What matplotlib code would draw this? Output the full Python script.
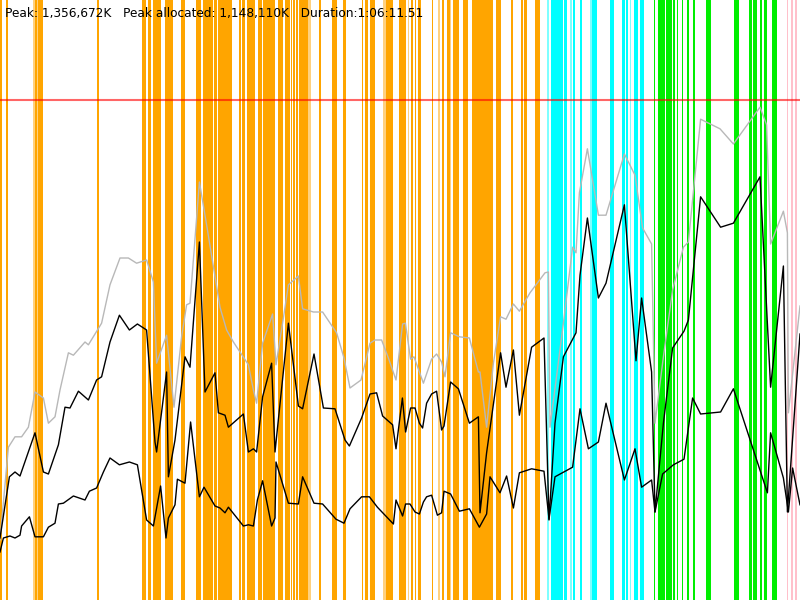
import matplotlib
matplotlib.use('Agg')
import matplotlib.pyplot as plt

# Heap usage over time (seconds / MB)
DURATION = 4000
HEAP_MAX = 1500
HEAP_LIMIT = 1250

committed_t = [0, 42, 75, 108, 142, 175, 217, 242, 275, 300, 342, 367, 425, 442, 508, 550, 600, 642, 683, 733,
               767, 783, 833, 870, 908, 933, 950, 997, 1033, 1100, 1133, 1167, 1200, 1242, 1267, 1283, 1313, 1363, 1380, 1417,
               1442, 1492, 1513, 1567, 1613, 1683, 1720, 1750, 1805, 1850, 1875, 1908, 1942, 1980, 2013, 2027, 2053, 2070, 2117, 2158,
               2183, 2208, 2225, 2253, 2297, 2347, 2392, 2400, 2433, 2467, 2503, 2530, 2567, 2597, 2650, 2725, 2742, 2750, 2817, 2863,
               2880, 2897, 2937, 2992, 3030, 3122, 3175, 3213, 3258, 3275, 3317, 3363, 3417, 3442, 3503, 3600, 3667, 3800, 3833, 3853,
               3917, 3937, 3942, 4000]
committed_mb = [150, 382, 408, 408, 432, 520, 505, 442, 458, 525, 618, 612, 645, 638, 692, 788, 855, 855, 842, 850,
                795, 592, 662, 482, 658, 738, 742, 1045, 938, 732, 675, 645, 620, 588, 525, 492, 642, 715, 588, 705,
                788, 810, 728, 720, 720, 668, 605, 530, 550, 642, 650, 650, 605, 550, 690, 692, 602, 608, 542, 602,
                615, 595, 558, 668, 658, 655, 570, 570, 432, 592, 708, 702, 740, 722, 768, 818, 820, 432, 692, 882,
                868, 1018, 1128, 962, 962, 1115, 1062, 930, 890, 442, 608, 775, 882, 895, 1202, 1178, 1140, 1232, 1188, 890,
                972, 918, 468, 735]

before_t = [0, 47, 75, 100, 175, 217, 242, 292, 325, 350, 392, 442, 483, 508, 550, 597, 647, 687, 733, 775,
            783, 833, 842, 875, 925, 950, 997, 1025, 1075, 1092, 1125, 1142, 1217, 1242, 1267, 1283, 1313, 1358, 1375, 1442,
            1492, 1513, 1570, 1617, 1675, 1725, 1747, 1808, 1850, 1883, 1913, 1963, 1980, 2012, 2028, 2053, 2075, 2097, 2113, 2133,
            2158, 2183, 2208, 2220, 2253, 2292, 2347, 2392, 2400, 2433, 2503, 2530, 2567, 2597, 2658, 2720, 2745, 2775, 2817, 2880,
            2900, 2937, 2992, 3030, 3122, 3180, 3208, 3258, 3275, 3317, 3363, 3420, 3442, 3503, 3603, 3667, 3800, 3853, 3917, 3937,
            4000]
before_mb = [155, 308, 320, 310, 418, 320, 315, 388, 482, 480, 522, 500, 550, 558, 645, 712, 675, 690, 675, 395,
             370, 570, 308, 400, 608, 582, 895, 520, 568, 468, 462, 432, 465, 370, 378, 370, 508, 592, 370, 692,
             485, 478, 615, 480, 478, 400, 385, 455, 515, 518, 460, 438, 378, 505, 420, 480, 480, 442, 430, 492,
             515, 522, 425, 435, 545, 528, 442, 458, 218, 368, 618, 532, 625, 462, 632, 655, 200, 442, 608, 668,
             812, 955, 755, 792, 988, 598, 755, 570, 220, 442, 630, 672, 700, 1008, 932, 942, 1058, 532, 835, 220,
             665]

after_t = [0, 17, 50, 75, 100, 108, 147, 175, 217, 242, 275, 292, 317, 367, 425, 447, 483, 517, 550, 597,
           647, 687, 733, 767, 803, 830, 842, 875, 887, 925, 953, 997, 1020, 1075, 1100, 1125, 1142, 1217, 1242, 1267,
           1287, 1313, 1358, 1375, 1380, 1442, 1492, 1513, 1570, 1613, 1680, 1720, 1750, 1808, 1847, 1887, 1967, 1980, 2013, 2028,
           2050, 2075, 2097, 2117, 2133, 2158, 2187, 2208, 2220, 2253, 2297, 2347, 2397, 2433, 2450, 2500, 2533, 2567, 2597, 2658,
           2720, 2745, 2775, 2863, 2900, 2942, 2992, 3030, 3122, 3175, 3208, 3258, 3275, 3313, 3367, 3420, 3463, 3503, 3603, 3667,
           3837, 3853, 3917, 3942, 3963, 4000]
after_mb = [120, 155, 160, 155, 162, 185, 208, 158, 158, 182, 192, 240, 242, 260, 250, 272, 280, 320, 355, 338,
            345, 338, 200, 185, 285, 155, 205, 238, 302, 292, 445, 258, 282, 235, 230, 218, 232, 185, 188, 185,
            250, 298, 185, 205, 345, 242, 240, 308, 242, 240, 202, 192, 228, 258, 258, 232, 190, 250, 210, 240,
            240, 220, 215, 245, 258, 262, 212, 218, 272, 265, 222, 228, 182, 215, 308, 268, 310, 230, 318, 328,
            322, 202, 308, 332, 478, 378, 395, 492, 300, 378, 282, 300, 220, 315, 338, 352, 505, 465, 470, 528,
            268, 418, 305, 220, 330, 238]

# GC pauses (start, end) in seconds
young_gc = [(0, 8), (30, 38), (175, 185), (190, 215), (483, 493), (710, 730), (738, 757), (763, 783), (787, 805),
            (827, 867), (907, 925), (980, 1003), (1017, 1067), (1070, 1087), (1092, 1158), (1195, 1205),
            (1210, 1225), (1233, 1275), (1292, 1308), (1317, 1375), (1392, 1417), (1425, 1450), (1453, 1462),
            (1467, 1475), (1480, 1492), (1497, 1542), (1597, 1607), (1658, 1683), (1713, 1730), (1808, 1817),
            (1825, 1842), (1850, 1875), (1930, 1967), (1997, 2028), (2053, 2063), (2075, 2080), (2092, 2103),
            (2160, 2165), (2212, 2220), (2237, 2250), (2263, 2295), (2313, 2338), (2358, 2467), (2480, 2505),
            (2553, 2563), (2605, 2617), (2622, 2633), (2675, 2700)]
young_gc_short = [(165, 175), (185, 190), (1540, 1553), (1913, 1930), (2040, 2045), (2188, 2200), (2252, 2257)]
mixed_gc = [(2755, 2815), (2820, 2835), (2865, 2875), (2900, 2910), (2960, 2985), (3050, 3070), (3110, 3125),
            (3130, 3140), (3170, 3190), (3200, 3220)]
mixed_gc_short = [(2735, 2745), (2850, 2860), (2950, 2960), (3150, 3155)]
full_gc = [(3270, 3275), (3290, 3325), (3330, 3360), (3365, 3375), (3385, 3390), (3410, 3415), (3435, 3445),
           (3465, 3475), (3530, 3555), (3670, 3695), (3745, 3760), (3765, 3785), (3800, 3810), (3820, 3835),
           (3860, 3885)]
remark_gc = [(3935, 3940), (3955, 3965), (3975, 3985)]

fig = plt.figure(figsize=(8, 6), dpi=100)
ax = fig.add_axes([0, 0, 1, 1])

for spans, color, alpha in [(young_gc, '#FFA500', 1.0), (young_gc_short, '#FFA500', 0.5),
                            (mixed_gc, '#00FFFF', 1.0), (mixed_gc_short, '#00FFFF', 0.5),
                            (full_gc, '#00EE00', 1.0), (remark_gc, '#FFC0CB', 1.0)]:
    for start, end in spans:
        ax.axvspan(start, end, color=color, alpha=alpha, lw=0)

ax.axhline(HEAP_LIMIT, color='red', alpha=0.6, lw=1.5)
ax.plot(committed_t, committed_mb, color='#B8B8B8', lw=1)
ax.plot(before_t, before_mb, color='black', lw=1)
ax.plot(after_t, after_mb, color='black', lw=1)

ax.set_xlim(0, DURATION)
ax.set_ylim(0, HEAP_MAX)
ax.axis('off')

fig.text(5 / 800, 1 - 13 / 600, 'Peak: 1,356,672K   Peak allocated: 1,148,110K   Duration:1:06:11.51',
         fontsize=8.7, va='center', ha='left', color='black')

fig.savefig('out.png', dpi=100)
